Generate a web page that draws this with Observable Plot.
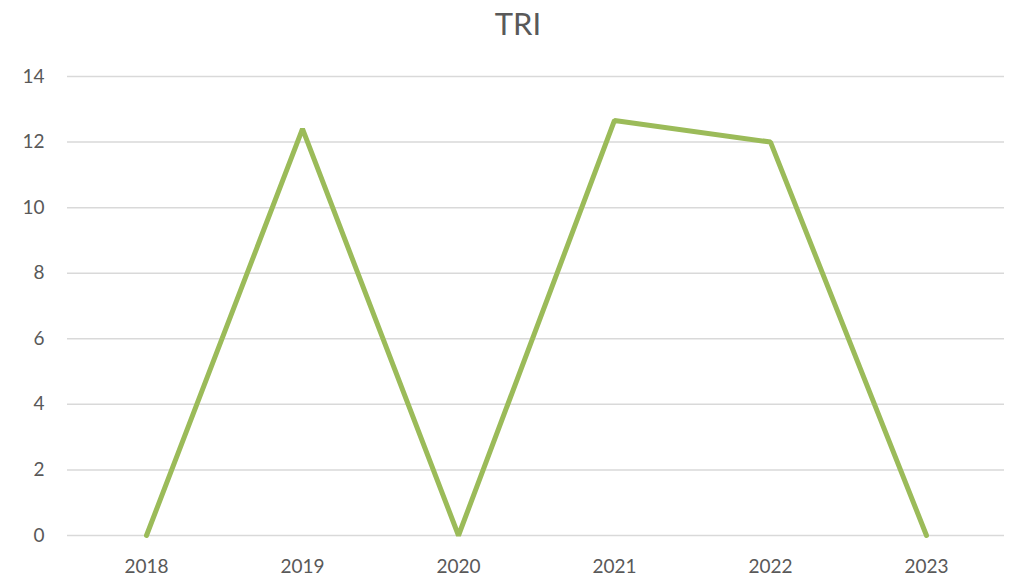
<!DOCTYPE html>
<html>
<head>
<meta charset="utf-8">
<script src="https://cdn.jsdelivr.net/npm/d3@7"></script>
<script src="https://cdn.jsdelivr.net/npm/@observablehq/plot@0.6"></script>
<style>
  html, body { margin: 0; padding: 0; background: #fff; }
  #wrap { width: 1012px; height: 576px; overflow: hidden; }
  #title { height: 50px; line-height: 46px; text-align: center; padding-left: 24px; box-sizing: border-box; font-family: Lato, "Open Sans", sans-serif; font-size: 31px; color: #595959; }
  svg { display: block; }
</style>
</head>
<body>
<div id="wrap">
  <div id="title">TRI</div>
  <div id="chart"></div>
</div>
<script>
const years = ["2018", "2019", "2020", "2021", "2022", "2023"];
const values = [0, 12.4, 0, 12.66, 12, 0];
const yTicks = [0, 2, 4, 6, 8, 10, 12, 14];

const data = years.map((y, i) => ({year: y, value: values[i]}));

const chart = Plot.plot({
  width: 1012,
  height: 526,
  marginTop: 26,
  marginBottom: 41,
  marginLeft: 67,
  marginRight: 8,
  style: {fontFamily: "Lato, 'Open Sans', sans-serif", fontSize: "19px", color: "#595959", background: "#fff"},
  x: {type: "point", domain: years, padding: 0.5, label: null, tickSize: 0, tickPadding: 24},
  y: {domain: [0, 14], ticks: yTicks, label: null, tickSize: 0, tickPadding: 23},
  marks: [
    Plot.ruleY(yTicks, {stroke: "#d9d9d9", strokeWidth: 1.5}),
    Plot.axisY({ticks: yTicks, tickSize: 0, tickPadding: 23, label: null, fontSize: 19}),
    Plot.axisX({tickSize: 0, tickPadding: 24, label: null, fontSize: 19}),
    Plot.line(data, {x: "year", y: "value", stroke: "#9bbb59", strokeWidth: 5, strokeLinejoin: "miter", strokeLinecap: "round"})
  ]
});
document.getElementById("chart").appendChild(chart);
</script>
</body>
</html>
